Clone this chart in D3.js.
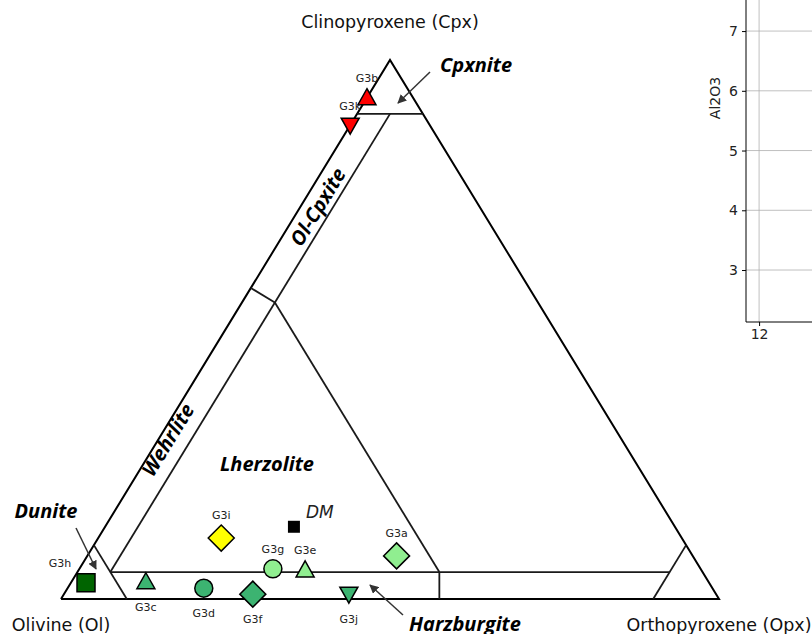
<!DOCTYPE html>
<html>
<head>
<meta charset="utf-8">
<script src="https://cdn.jsdelivr.net/npm/d3@7"></script>
<style>
body { margin: 0; background: #fff; }
svg { display: block; font-family: "DejaVu Sans", sans-serif; }
</style>
</head>
<body>
<div class="container"></div>
<script>
// samples: Ol / Opx / Cpx in %
var names  = ["G3a", "G3b", "G3c", "G3d", "G3e", "G3f", "G3g", "G3h", "G3i", "G3j", "G3k", "DM"];
var olVals  = [45.0,  7.0, 85.5, 77.3, 60.2, 70.4, 65.0, 94.7, 70.0, 55.8, 12.1, 57.9];
var opxVals = [47.0,  0.0, 11.3, 20.7, 34.4, 28.7, 29.4,  2.3, 18.7, 43.3,  0.0, 28.7];
var cpxVals = [ 8.0, 93.0,  3.2,  2.0,  5.4,  0.9,  5.6,  3.0, 11.3,  0.9, 87.9, 13.4];
var shapes  = ["diamond", "tri", "tri", "circle", "tri", "diamond", "circle", "square", "diamond", "tridown", "tridown", "dm"];
var colors  = ["#90ee90", "red", "#3cb371", "#3cb371", "#90ee90", "#3cb371", "#90ee90", "#006400", "yellow", "#3cb371", "red", "black"];
var placing = ["above", "above", "below", "below", "above", "below", "above", "aboveleft", "above", "below", "aboveleft2", "right"];

// classification boundaries, each a list of [ol, opx, cpx]
var outline  = [[100, 0, 0], [0, 100, 0], [0, 0, 100], [100, 0, 0]];
var fields = [
    [[90, 0, 10], [90, 10, 0]],            // dunite
    [[10, 0, 90], [0, 10, 90]],            // cpx 90
    [[10, 90, 0], [0, 90, 10]],            // opx 90
    [[90, 5, 5], [5, 90, 5]],              // cpx 5
    [[90, 5, 5], [5, 5, 90]],              // opx 5
    [[40, 5, 55], [40, 55, 5]],            // ol 40
    [[40, 5, 55], [42.3, 0, 57.7]],
    [[40, 55, 5], [42.5, 57.5, 0]]
];

// region names
var regionNames = ["Cpxnite", "Dunite", "Harzburgite", "Lherzolite", "Wehrlite", "Ol-Cpxite"];

// right panel
var alTicks = [3, 4, 5, 6, 7];
var xTicks = [12];

var W = 812, H = 634;
var svg = d3.select(".container").append("svg").attr("width", W).attr("height", H);

var tx = d3.scaleLinear().domain([0, 1]).range([61, 719]);
var ty = d3.scaleLinear().domain([0, 1]).range([599, 60]);

function proj(c) {
    var s = c[0] + c[1] + c[2];
    var opx = c[1] / s, cpx = c[2] / s;
    return [tx(opx + cpx / 2), ty(cpx)];
}

var line = d3.line().x(function(d) { return proj(d)[0]; }).y(function(d) { return proj(d)[1]; });

// ---- right partial panel ----
var py = d3.scaleLinear().domain([2.13, 7.52]).range([322, 0]);
var px = d3.scaleLinear().domain([11.78, 14]).range([746, 878]);
var panel = svg.append("g");
panel.selectAll("line.hg").data(alTicks).enter().append("line")
    .attr("x1", 746).attr("x2", W)
    .attr("y1", function(d) { return py(d); }).attr("y2", function(d) { return py(d); })
    .style("stroke", "#b0b0b0").style("stroke-width", 0.8);
panel.selectAll("line.vg").data(xTicks).enter().append("line")
    .attr("x1", function(d) { return px(d); }).attr("x2", function(d) { return px(d); })
    .attr("y1", 0).attr("y2", 322)
    .style("stroke", "#b0b0b0").style("stroke-width", 0.8);
panel.append("g").attr("transform", "translate(746,0)")
    .call(d3.axisLeft(py).tickValues(alTicks).tickSize(4).tickPadding(4).tickFormat(d3.format("d")))
    .call(function(g) {
        g.select(".domain").attr("d", "M0,0V322").style("stroke", "#000").style("stroke-width", 1);
        g.selectAll("text").style("font-size", "14px").style("font-family", "DejaVu Sans").attr("fill", "#222");
    });
panel.append("g").attr("transform", "translate(0,322)")
    .call(d3.axisBottom(px).tickValues(xTicks).tickSize(4).tickPadding(3).tickFormat(d3.format("d")))
    .call(function(g) {
        g.select(".domain").attr("d", "M746,0H" + W).style("stroke", "#000").style("stroke-width", 1);
        g.selectAll("text").style("font-size", "14px").style("font-family", "DejaVu Sans").attr("fill", "#222");
    });
panel.append("text")
    .attr("transform", "translate(720,98) rotate(-90)")
    .attr("text-anchor", "middle")
    .style("font-size", "14px").attr("fill", "#222")
    .text("Al2O3");

// ---- ternary ----
var tern = svg.append("g");
tern.append("path").attr("d", line(outline))
    .style("fill", "white").style("stroke", "#000").style("stroke-width", 2).style("stroke-linejoin", "miter");
tern.selectAll("path.field").data(fields).enter().append("path")
    .attr("class", "field")
    .attr("d", line)
    .style("fill", "none").style("stroke", "#1a1a1a").style("stroke-width", 1.8);

// vertex labels
tern.append("text").attr("x", tx(0.5)).attr("y", 28).attr("text-anchor", "middle")
    .style("font-size", "17.5px").attr("fill", "#111").text("Clinopyroxene (Cpx)");
tern.append("text").attr("x", tx(0)).attr("y", 631).attr("text-anchor", "middle")
    .style("font-size", "17.5px").attr("fill", "#111").text("Olivine (Ol)");
tern.append("text").attr("x", tx(1)).attr("y", 631).attr("text-anchor", "middle")
    .style("font-size", "17.5px").attr("fill", "#111").text("Orthopyroxene (Opx)");

// region names
var edgeAngle = -Math.atan2(ty(0) - ty(1), tx(0.5) - tx(0)) * 180 / Math.PI;
var regionPos = {
    "Cpxnite": [440, 72, 0, "start"],
    "Dunite": [46, 518, 0, "middle"],
    "Harzburgite": [465, 631, 0, "middle"],
    "Lherzolite": [267, 471, 0, "middle"],
    "Wehrlite": [168, 440, edgeAngle, "middle"],
    "Ol-Cpxite": [318, 207, edgeAngle, "middle"]
};
regionNames.forEach(function(n) {
    var p = regionPos[n];
    tern.append("text")
        .attr("transform", "translate(" + p[0] + "," + p[1] + ") rotate(" + p[2] + ")")
        .attr("text-anchor", p[3])
        .attr("dy", p[2] != 0 ? "0.35em" : 0)
        .style("font-family", "Open Sans").style("font-weight", "bold").style("font-style", "italic")
        .style("font-size", "20px").attr("fill", "#000")
        .text(n);
});

// arrows
svg.append("defs").append("marker")
    .attr("id", "ah").attr("viewBox", "0 0 10 10").attr("refX", 9).attr("refY", 5)
    .attr("markerWidth", 9).attr("markerHeight", 9).attr("markerUnits", "userSpaceOnUse").attr("orient", "auto")
    .append("path").attr("d", "M0,0L10,5L0,10z").style("fill", "#333");
var arrows = [[[430, 72], [398, 103]], [[76, 528], [96, 569]], [[403, 615], [370, 585]]];
tern.selectAll("line.arr").data(arrows).enter().append("line")
    .attr("x1", function(d) { return d[0][0]; }).attr("y1", function(d) { return d[0][1]; })
    .attr("x2", function(d) { return d[1][0]; }).attr("y2", function(d) { return d[1][1]; })
    .style("stroke", "#333").style("stroke-width", 1.5).attr("marker-end", "url(#ah)");

// markers
function markerPath(s) {
    if (s == "tri") return "M0,-9L9,7L-9,7Z";
    if (s == "tridown") return "M0,9L9,-7L-9,-7Z";
    if (s == "square") return "M-9,-9H9V9H-9Z";
    if (s == "dm") return "M-6,-6H6V6H-6Z";
    if (s == "diamond") return "M0,-13L13,0L0,13L-13,0Z";
    return d3.symbol().type(d3.symbolCircle).size(Math.PI * 81)();
}
var pts = names.map(function(n, i) {
    var p = proj([olVals[i], opxVals[i], cpxVals[i]]);
    return {name: n, x: p[0], y: p[1], shape: shapes[i], color: colors[i], place: placing[i]};
});
tern.selectAll("path.pt").data(pts).enter().append("path")
    .attr("transform", function(d) { return "translate(" + d.x + "," + d.y + ")"; })
    .attr("d", function(d) { return markerPath(d.shape); })
    .style("fill", function(d) { return d.color; })
    .style("stroke", function(d) { return d.shape == "dm" ? "none" : "#000"; })
    .style("stroke-width", 1.5);

var offsets = {above: [0, -16], below: [0, 29], aboveleft: [-26, -16], aboveleft2: [0, -15], right: [12, -9]};
tern.selectAll("text.lbl").data(pts).enter().append("text")
    .attr("x", function(d) { return d.x + offsets[d.place][0]; })
    .attr("y", function(d) { return d.y + offsets[d.place][1] + (d.place == "above" && d.shape == "diamond" ? -3 : 0); })
    .attr("text-anchor", function(d) { return d.place == "right" ? "start" : "middle"; })
    .style("font-size", function(d) { return d.place == "right" ? "17px" : "11px"; })
    .style("font-style", function(d) { return d.place == "right" ? "italic" : "normal"; })
    .attr("fill", "#222")
    .text(function(d) { return d.name; });
</script>
</body>
</html>
